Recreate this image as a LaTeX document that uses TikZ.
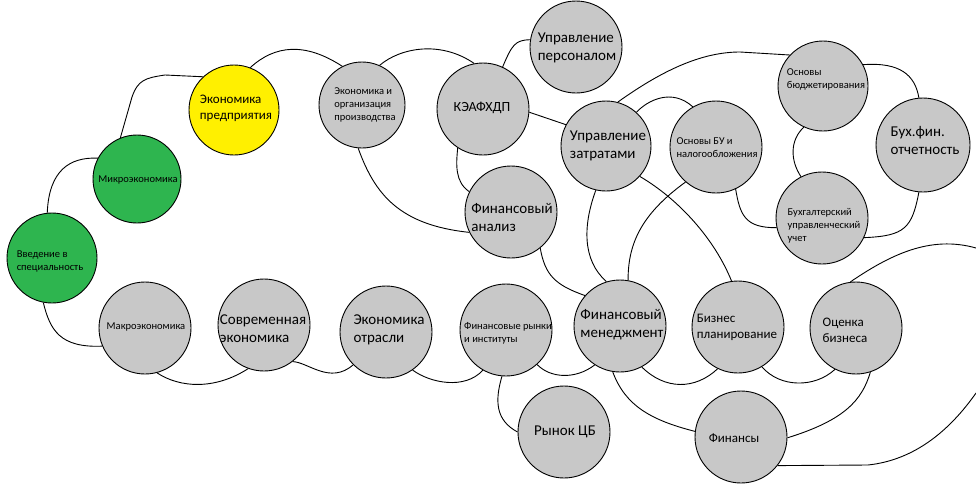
\documentclass[tikz,border=0pt]{standalone}
\usepackage{fontspec}
\setmainfont{Carlito}
\definecolor{bubgray}{HTML}{C8C8C8}
\definecolor{bubgreen}{HTML}{2EB54F}
\definecolor{bubyellow}{HTML}{FFF000}
\begin{document}
\begin{tikzpicture}[x=1pt,y=-1pt,
  bub/.style={circle, draw=black, line width=0.9pt, fill=bubgray, inner sep=0pt, minimum size=92pt},
  lab/.style={align=left, inner sep=0pt, text=black},
  tsm/.style={font=\fontsize{10.5}{13}\selectfont},
  tmd/.style={font=\fontsize{13}{16}\selectfont},
  tlg/.style={font=\fontsize{15}{18}\selectfont},
  con/.style={draw=black, line width=0.9pt}]
\path[use as bounding box] (0,0) rectangle (976,490);
% bubbles
\node[bub, fill=bubgreen, minimum size=90pt] (vved) at (52,258) {};
\node[bub, fill=bubgreen, minimum size=88pt] (micro) at (137,179) {};
\node[bub, fill=bubyellow, minimum size=90pt] (epred) at (234,110) {};
\node[bub, minimum size=86pt] (eorg) at (362,105) {};
\node[bub] (keaf) at (483,109) {};
\node[bub] (uper) at (576,47) {};
\node[bub, minimum size=90pt] (uzat) at (606,146) {};
\node[bub] (obu) at (716,147) {};
\node[bub, minimum size=90pt] (obud) at (823,86) {};
\node[bub, minimum size=94pt] (buxfin) at (923,145) {};
\node[bub] (buxuch) at (822,218) {};
\node[bub] (finan) at (511,212) {};
\node[bub] (macro) at (145,328) {};
\node[bub] (sovr) at (264,325) {};
\node[bub] (eotr) at (386,332) {};
\node[bub] (finr) at (506,330) {};
\node[bub] (finm) at (620,326) {};
\node[bub] (rcb) at (564,432) {};
\node[bub] (bizp) at (738,327) {};
\node[bub] (ocen) at (856,328) {};
\node[bub] (finy) at (741,437) {};
% labels
\node[lab,tsm] (vvedT) at (50,261) {Введение в\\специальность};
\node[lab,tsm] (microT) at (138,180) {Микроэкономика};
\node[lab,tmd] (epredT) at (236,108) {Экономика\\предприятия};
\node[lab,tsm] (eorgT) at (365,105) {Экономика и\\организация\\производства};
\node[lab,tmd,font=\fontsize{14}{17}\selectfont] (keafT) at (482,108) {КЭАФХДП};
\node[lab,tlg] (uperT) at (577,48) {Управление\\персоналом};
\node[lab,tlg] (uzatT) at (608,146) {Управление\\затратами};
\node[lab,tsm] (obuT) at (717,148) {Основы БУ и\\налогообложения};
\node[lab,tsm] (obudT) at (826,79) {Основы\\бюджетирования};
\node[lab,tlg] (buxfinT) at (925,140) {Бух.фин.\\отчетность};
\node[lab,tsm] (buxuchT) at (824,226) {Бухгалтерский\\управленческий\\учет};
\node[lab,tlg] (finanT) at (512,217) {Финансовый\\анализ};
\node[lab,tsm] (macroT) at (146,327) {Макроэкономика};
\node[lab,tlg] (sovrT) at (263,329) {Современная\\экономика};
\node[lab,tlg] (eotrT) at (389,330) {Экономика\\отрасли};
\node[lab,tsm] (finrT) at (508,333) {Финансовые рынки\\и институты};
\node[lab,tlg] (finmT) at (622,325) {Финансовый\\менеджмент};
\node[lab,tlg] (rcbT) at (565,432) {Рынок ЦБ};
\node[lab,tmd] (bizpT) at (737,327) {Бизнес\\планирование};
\node[lab,tmd] (ocenT) at (845,330) {Оценка\\бизнеса};
\node[lab,tmd] (finyT) at (734,438) {Финансы};
% free ends at the right edge
\coordinate (edgeA) at (976,248);
\coordinate (edgeB) at (976,393);
% connectors
\draw[con] (vved.96) .. controls (49,170) and (70,157) .. (micro.152);
\draw[con] (micro.112) -- (132,97) .. controls (138,80) and (145,78) .. (165,75) -- (epred.133);
\draw[con] (epred.69) .. controls (275,45) and (305,42) .. (eorg.117);
\draw[con] (eorg.66) .. controls (400,48) and (440,40) .. (keaf.101);
\draw[con] (keaf.65) .. controls (512,45) and (515,40) .. (uper.171);
\draw[con] (keaf.-4) -- (uzat.152);
\draw[con] (keaf.237) .. controls (456,165) and (455,182) .. (finan.154);
\draw[con] (eorg.265) .. controls (375,195) and (400,225) .. (finan.206);
\draw[con] (uzat.75) .. controls (660,72) and (700,52) .. (740,52) -- (obud.137);
\draw[con] (uzat.48) .. controls (648,100) and (672,88) .. (obu.120);
\draw[con] (obu.295) .. controls (740,215) and (745,228) .. (buxuch.192);
\draw[con] (obud.245) .. controls (790,140) and (790,160) .. (buxuch.117);
\draw[con] (obud.28) .. controls (900,62) and (915,75) .. (buxfin.95);
\draw[con] (buxfin.265) .. controls (912,228) and (905,236) .. (buxuch.335);
\draw[con] (uzat.318) .. controls (680,200) and (715,240) .. (bizp.98);
\draw[con] (obu.229) .. controls (640,215) and (628,245) .. (finm.80);
\draw[con] (uzat.257) .. controls (583,225) and (582,260) .. (finm.107);
\draw[con] (finan.309) .. controls (545,275) and (555,285) .. (finm.139);
\draw[con] (finr.312) .. controls (550,378) and (575,380) .. (finm.237);
\draw[con] (finr.265) .. controls (495,400) and (495,420) .. (rcb.180);
\draw[con] (finm.261) .. controls (625,405) and (650,420) .. (finy.173);
\draw[con] (finm.298) .. controls (665,390) and (695,390) .. (bizp.244);
\draw[con] (bizp.301) .. controls (780,388) and (815,388) .. (ocen.243);
\draw[con] (ocen.288) .. controls (862,400) and (845,420) .. (finy.-1);
\draw[con] (ocen.97) .. controls (890,255) and (930,235) .. (edgeA);
\draw[con] (finy.322) -- (868,465) .. controls (915,460) and (950,430) .. (edgeB);
\draw[con] (vved.259) .. controls (50,330) and (60,348) .. (macro.203);
\draw[con] (macro.285) .. controls (180,388) and (215,390) .. (sovr.250);
\draw[con] (sovr.308) .. controls (308,362) and (330,385) .. (eotr.225);
\draw[con] (eotr.305) .. controls (430,383) and (465,390) .. (finr.240);
\end{tikzpicture}
\end{document}
